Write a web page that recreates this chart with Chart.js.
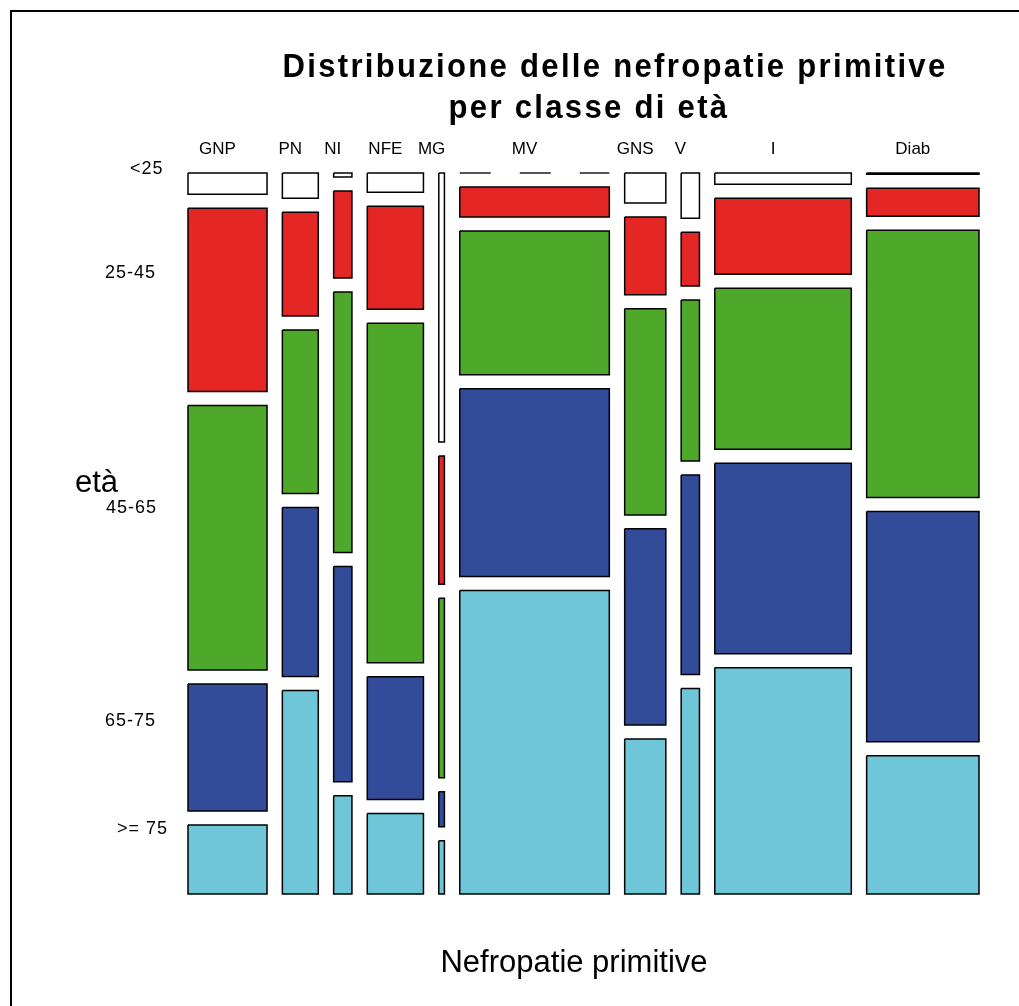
<!DOCTYPE html>
<html>
<head>
<meta charset="utf-8">
<script src="https://cdn.jsdelivr.net/npm/chart.js@4.4.1/dist/chart.umd.min.js"></script>
<style>
  html, body { margin: 0; padding: 0; background: #fff; }
  #wrap { width: 1019px; height: 1006px; }
</style>
</head>
<body>
<div id="wrap"><canvas id="mosaic" width="1019" height="1006"></canvas></div>
<script>
// categories (x) and age classes (y)
const categories = ['GNP', 'PN', 'NI', 'NFE', 'MG', 'MV', 'GNS', 'V', 'I', 'Diab'];
const ageClasses = ['<25', '25-45', '45-65', '65-75', '>= 75'];

// share of patients in each nephropathy (% of total)
const colShare = [12.1, 5.5, 2.8, 8.6, 0.86, 22.9, 6.3, 2.8, 20.9, 17.2];

// % of each nephropathy falling in each age class
const ageLt25 = [3.2, 3.8, 0.6, 2.9, 40.5, 0, 4.5, 6.8, 1.7, 0.2];
const age25to45 = [27.6, 15.6, 13.1, 15.5, 19.3, 4.5, 11.7, 8.1, 11.4, 4.2];
const age45to65 = [39.8, 24.6, 39.2, 51.1, 27.0, 21.6, 31.0, 24.2, 24.2, 40.2];
const age65to75 = [19.1, 25.4, 32.4, 18.5, 5.3, 28.2, 29.5, 30.0, 28.6, 34.6];
const ageGe75 = [10.4, 30.6, 14.8, 12.1, 8.0, 45.6, 23.3, 30.9, 34.0, 20.8];

const ageRows = [ageLt25, age25to45, age45to65, age65to75, ageGe75];
const ageColors = ['#ffffff', '#e42624', '#4ea82a', '#334c99', '#6fc6d8'];

const GAP = 0.0194; // spacing between tiles, as a fraction of the plot

// build one closed rectangle (as a filled line dataset) per cell
const datasets = [];
const colCenters = [];
const shareSum = colShare.reduce((a, b) => a + b, 0);
const usableW = 1 - GAP * (categories.length - 1);
const usableH = 1 - GAP * (ageClasses.length - 1);
let x = 0;
categories.forEach((cat, j) => {
    const w = usableW * colShare[j] / shareSum;
    colCenters.push(x + w / 2);
    const colSum = ageRows.reduce((s, r) => s + r[j], 0);
    let y = 0;
    ageRows.forEach((row, i) => {
        const h = usableH * row[j] / colSum;
        if (h === 0) {
            // empty cell: dashed line
            datasets.push({
                data: [{x: x, y: y}, {x: x + w, y: y}],
                borderColor: '#555555',
                borderWidth: 2,
                borderDash: [31, 29],
                fill: false,
                pointRadius: 0,
                clip: false
            });
        } else {
            datasets.push({
                label: cat + ' ' + ageClasses[i],
                data: [{x: x, y: y}, {x: x + w, y: y}, {x: x + w, y: y + h}, {x: x, y: y + h}, {x: x, y: y}],
                backgroundColor: ageColors[i],
                borderColor: '#000000',
                borderWidth: 1.5,
                borderJoinStyle: 'miter',
                fill: 'shape',
                pointRadius: 0,
                tension: 0,
                clip: false
            });
        }
        y += h + GAP;
    });
    x += w + GAP;
});

// texts drawn on top of the chart
const textPlugin = {
    id: 'texts',
    afterDraw(chart) {
        const ctx = chart.ctx;
        const xs = chart.scales.x;
        ctx.save();

        // frame (only top and left edges are inside the picture)
        ctx.strokeStyle = '#000';
        ctx.lineWidth = 2;
        ctx.beginPath();
        ctx.moveTo(11, 1100);
        ctx.lineTo(11, 11);
        ctx.lineTo(1100, 11);
        ctx.stroke();

        ctx.fillStyle = '#000';
        ctx.textAlign = 'center';
        ctx.textBaseline = 'alphabetic';

        // title, bold, narrow letters spaced out to the reference width
        ctx.font = "bold 34px 'Liberation Sans', Arial, sans-serif";
        ctx.letterSpacing = '2.5px';
        const t1 = 'Distribuzione delle nefropatie primitive';
        const t2 = 'per classe di età';
        const sx = 665 / ctx.measureText(t1).width;
        ctx.save();
        ctx.translate(615, 77);
        ctx.scale(sx, 1);
        ctx.fillText(t1, 0, 0);
        ctx.restore();
        ctx.save();
        ctx.translate(589, 118);
        ctx.scale(sx, 1);
        ctx.fillText(t2, 0, 0);
        ctx.restore();
        ctx.letterSpacing = '0px';

        // category labels above the columns
        ctx.font = "17px 'Liberation Sans', Arial, sans-serif";
        ctx.textBaseline = 'middle';
        categories.forEach((c, j) => {
            ctx.fillText(c, xs.getPixelForValue(colCenters[j]) - 10, 149);
        });

        // age class labels
        ctx.font = "18px 'Liberation Sans', Arial, sans-serif";
        ctx.letterSpacing = '1px';
        ctx.textAlign = 'left';
        const ageLabelPos = [[130, 169], [105, 273], [106, 508], [105, 721], [117, 829]];
        ageClasses.forEach((a, i) => {
            ctx.fillText(a, ageLabelPos[i][0], ageLabelPos[i][1]);
        });
        ctx.letterSpacing = '0px';

        // axis titles
        ctx.font = "31px 'Liberation Sans', Arial, sans-serif";
        ctx.textBaseline = 'alphabetic';
        ctx.fillText('età', 75, 492);
        ctx.textAlign = 'center';
        ctx.fillText('Nefropatie primitive', 574, 972);
        ctx.restore();
    }
};

new Chart(document.getElementById('mosaic'), {
    type: 'line',
    data: { datasets: datasets },
    options: {
        responsive: false,
        animation: false,
        layout: { padding: { left: 188, right: 40, top: 173, bottom: 112 } },
        scales: {
            x: { type: 'linear', min: 0, max: 1, display: false },
            y: { type: 'linear', min: 0, max: 1, reverse: true, display: false }
        },
        plugins: {
            legend: { display: false },
            tooltip: { enabled: false }
        }
    },
    plugins: [textPlugin]
});
</script>
</body>
</html>
